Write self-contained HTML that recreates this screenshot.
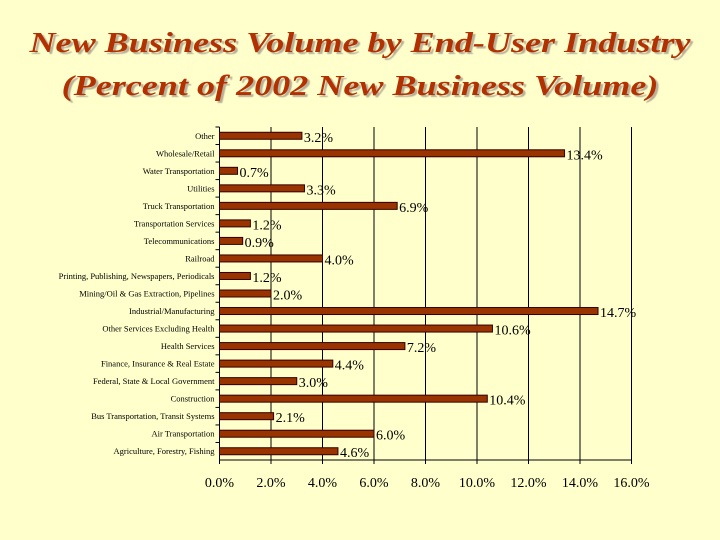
<!DOCTYPE html>
<html><head><meta charset="utf-8"><style>
body{margin:0;background:#FFFFCC;}
#wrap{position:relative;width:720px;height:540px;background:#FFFFCC;overflow:hidden;font-family:"Liberation Serif",serif;}
.title{position:absolute;left:0;width:720px;text-align:center;font-style:italic;font-weight:bold;font-size:29px;color:#B33000;text-shadow:2px 2px 1px #b8b098;white-space:nowrap;transform:scaleX(1.245);transform-origin:360px 0;}
</style></head><body>
<div id="wrap">
<div class="title" style="top:27px">New Business Volume by End-User Industry</div>
<div class="title" style="top:70px">(Percent of 2002 New Business Volume)</div>
<svg id="chart" width="720" height="540" style="position:absolute;left:0;top:0"></svg>
</div>
<script>
const categories=["Other","Wholesale/Retail","Water Transportation","Utilities","Truck Transportation","Transportation Services","Telecommunications","Railroad","Printing, Publishing, Newspapers, Periodicals","Mining/Oil & Gas Extraction, Pipelines","Industrial/Manufacturing","Other Services Excluding Health","Health Services","Finance, Insurance & Real Estate","Federal, State & Local Government","Construction","Bus Transportation, Transit Systems","Air Transportation","Agriculture, Forestry, Fishing"];
const values=[3.2,13.4,0.7,3.3,6.9,1.2,0.9,4.0,1.2,2.0,14.7,10.6,7.2,4.4,3.0,10.4,2.1,6.0,4.6];
const ticks=[0,2,4,6,8,10,12,14,16];
const NS="http://www.w3.org/2000/svg";
const svg=document.getElementById('chart');
const x0=219.5,x1=631.5,yTop=127,yBot=460,xMax=16;
const xs=v=>x0+(x1-x0)*v/xMax;
const band=(yBot-yTop)/categories.length;
const yc=i=>yTop+band*(i+0.5);
function mk(t,a){const e=document.createElementNS(NS,t);for(const k in a)e.setAttribute(k,a[k]);svg.appendChild(e);return e;}
ticks.forEach((t,i)=>{
 if(t>0){const g=mk('line',{x1:xs(t),x2:xs(t),y1:yTop,y2:yBot,stroke:'#000','stroke-width':1});
 
 }
 const tk=mk('line',{x1:xs(t),x2:xs(t),y1:yBot,y2:yBot+4,stroke:'#000'});
 
 
 const l=mk('text',{x:xs(t),y:487,'text-anchor':'middle','font-size':14,'font-family':'Liberation Serif, serif'});
 l.textContent=t.toFixed(1)+'%';
 
 
});
const ax=mk('line',{x1:x0,x2:x0,y1:yTop,y2:yBot,stroke:'#000'});


const bx=mk('line',{x1:x0,x2:x1,y1:yBot,y2:yBot,stroke:'#000'});


categories.forEach((c,i)=>{
 const y=yc(i);
 const tk=mk('line',{x1:x0-4,x2:x0,y1:yTop+band*i,y2:yTop+band*i,stroke:'#000'});
 
 
 const r=mk('rect',{x:x0,y:y-3.5,width:xs(values[i])-x0,height:7,fill:'#993300',stroke:'#330000','stroke-width':1});
 
 
 const cl=mk('text',{x:x0-5,y:y+3,'text-anchor':'end','font-size':8.5,'font-family':'Liberation Serif, serif'});
 cl.textContent=c;
 
 
 const vl=mk('text',{x:xs(values[i])+2,y:y+6,'font-size':14,'font-family':'Liberation Serif, serif'});
 vl.textContent=values[i].toFixed(1)+'%';
 
 
});
</script>
</body></html>
